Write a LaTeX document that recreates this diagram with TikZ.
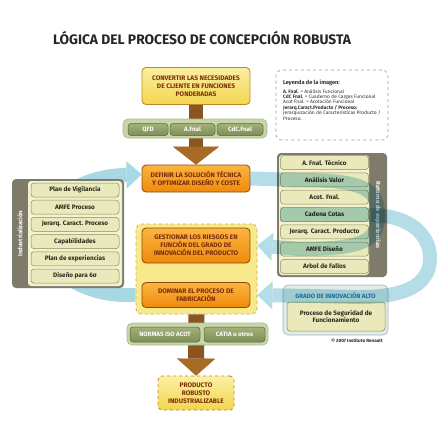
\documentclass[tikz,border=0pt]{standalone}
\usepackage{fontspec}
\setmainfont{Fira Sans}
\usetikzlibrary{arrows.meta}
\definecolor{boxtext}{HTML}{7A2E0C}
\definecolor{ytop}{HTML}{FBEFA2}
\definecolor{ybot}{HTML}{F3D64E}
\definecolor{ybord}{HTML}{B8862B}
\definecolor{otop}{HTML}{FBB540}
\definecolor{obot}{HTML}{EE8A0C}
\definecolor{obord}{HTML}{8A4A10}
\definecolor{cboxfill}{HTML}{F8E98A}
\definecolor{barfill}{HTML}{C9D5A9}
\definecolor{barbord}{HTML}{A9B98A}
\definecolor{btntop}{HTML}{A3B07A}
\definecolor{btnbot}{HTML}{7D8E55}
\definecolor{btnbord}{HTML}{56663A}
\definecolor{panelgray}{HTML}{7E7B6B}
\definecolor{panelcream}{HTML}{F3F1CF}
\definecolor{itemfill}{HTML}{EAE9BC}
\definecolor{itembord}{HTML}{8C8A5C}
\definecolor{itemtext}{HTML}{2B2A1E}
\definecolor{bandblue}{HTML}{A8D8E3}
\definecolor{shaftbrown}{HTML}{8A5520}
\definecolor{headbrown}{HTML}{A86B26}
\definecolor{gradofill}{HTML}{E1EBE8}
\definecolor{gradobord}{HTML}{A0B7B6}
\definecolor{gradotext}{HTML}{2E7EA6}
\tikzset{
  yellowbox/.style={draw=ybord, line width=0.8pt, rounded corners=4pt,
    top color=ytop, bottom color=ybot, text=boxtext, align=center,
    font=\bfseries\fontsize{6.6}{7.8}\selectfont, inner sep=0pt},
  orangebox/.style={yellowbox, draw=obord, top color=otop, bottom color=obot},
  toolbar/.style={fill=barfill, draw=barbord, line width=0.6pt, rounded corners=5pt, inner sep=0pt},
  toolbtn/.style={draw=btnbord, line width=0.5pt, rounded corners=3pt, top color=btntop,
    bottom color=btnbot, text=white, inner sep=0pt, minimum height=12pt,
    font=\bfseries\fontsize{6.2}{7}\selectfont},
  panelitem/.style={draw=itembord, line width=0.5pt, rounded corners=3pt, fill=itemfill,
    minimum width=88pt, minimum height=14pt, inner sep=0pt, text=itemtext,
    font=\bfseries\fontsize{6.4}{7}\selectfont},
  feedback/.style={line width=14pt, draw=bandblue,
    -{Triangle[width=28pt,length=15pt,line width=0.1pt]}},
  trunk/.style={line width=14pt, draw=shaftbrown,
    -{Triangle[width=46pt,length=18pt,line width=0.1pt,fill=headbrown]}},
}
\begin{document}
\begin{tikzpicture}[x=1pt, y=-1pt]
\useasboundingbox[fill=white] (0,0) rectangle (443,426);
% Title
\node[font=\bfseries\fontsize{13.8}{15}\selectfont, text=black!85] (title) at (202,38)
  {LÓGICA DEL PROCESO DE CONCEPCIÓN ROBUSTA};

% Main column
\node[yellowbox, minimum width=108pt, minimum height=37pt] (conv) at (196,86)
  {CONVERTIR LAS NECESIDADES\\DE CLIENTE EN FUNCIONES\\PONDERADAS};
\node[orangebox, minimum width=108pt, minimum height=27pt] (defin) at (196,178.5)
  {DEFINIR LA SOLUCIÓN TÉCNICA\\Y OPTIMIZAR DISEÑO Y COSTE};
\node[yellowbox, draw=ybord!70, dashed, fill=cboxfill, top color=cboxfill, bottom color=cboxfill,
  rounded corners=5pt, minimum width=121pt, minimum height=90pt] (cbox) at (196.5,269) {};
\node[orangebox, minimum width=108pt, minimum height=35pt] (gest) at (196,245.5)
  {GESTIONAR LOS RIESGOS EN\\FUNCIÓN DEL GRADO DE\\INNOVACIÓN DEL PRODUCTO};
\node[orangebox, minimum width=108pt, minimum height=25pt] (domin) at (196,295)
  {DOMINAR EL PROCESO DE\\FABRICACIÓN};
\node[yellowbox, dashed, minimum width=76pt, minimum height=34pt] (final) at (196,393)
  {PRODUCTO\\ROBUSTO\\INDUSTRIALIZABLE};

% Brown trunks (behind the tool bars)
\draw[trunk] (conv.south) -- (defin.north);
\draw[trunk, line width=16pt, -{Triangle[width=38pt,length=17pt,line width=0.1pt,fill=headbrown]}]
  (cbox.south) -- (final.north);

% Tool bars
\node[toolbar, minimum width=144pt, minimum height=19pt] (topbar) at (195,128.5) {};
\node[toolbtn, minimum width=40pt] (qfd) at (148,129.5) {QFD};
\node[toolbtn, minimum width=45pt] (afnal) at (192.5,129.5) {A.Fnal};
\node[toolbtn, minimum width=46pt] (cdc) at (240,129.5) {CdC.Fnal};
\node[toolbar, minimum width=141pt, minimum height=22pt] (botbar) at (197.5,334) {};
\node[toolbtn, minimum width=70pt, minimum height=15pt] (normas) at (165,334.5) {NORMAS ISO ACOT};
\node[toolbtn, minimum width=61pt, minimum height=15pt] (catia) at (234.5,334.5) {CATIA u otros};

% Legend
\node[draw=black!40, dashed, line width=0.6pt, rounded corners=6pt,
  minimum width=112pt, minimum height=70pt] (legendbox) at (332,105) {};
\node[anchor=north west, align=left, inner sep=0pt, text=black!80,
  font=\fontsize{4.9}{5.4}\selectfont] (legendtxt) at (283,80)
  {{\bfseries\fontsize{5.6}{6}\selectfont Leyenda de la imagen:}\\[3pt]
   \textbf{A. Fnal.} = Análisis Funcional\\
   \textbf{CdC Fnal.} = Cuaderno de Cargas Funcional\\
   Acot Fnal. = Acotación Funcional\\
   \textbf{Jerarq.Caract.Producto / Proceso:}\\
   Jerarquización de Características Producto /\\
   Proceso.};

% Left feedback loop (behind the panel)
\draw[feedback, -{Triangle[width=27pt,length=15pt,line width=0.1pt]}]
  (cbox.west |- domin) -- (126,295) .. controls (90,295) and (45,276) .. (45,235)
  .. controls (45,200) and (80,176) .. ([yshift=4pt]defin.west);

% Left panel: Industrializacion
\fill[panelgray, rounded corners=4pt] (12,179) rectangle (124,288);
\fill[panelcream, rounded corners=3pt] (28,181) rectangle (122,286);
\node[rotate=90, text=white, font=\bfseries\fontsize{6}{6}\selectfont] (indlabel) at (20,233.5)
  {Industrialización};
\foreach \txt [count=\i] in {Plan de Vigilancia, AMFE Proceso, Jerarq. Caract. Proceso,
  Capabilidades, Plan de experiencias, Diseño para 6σ}
  \node[panelitem] (litem\i) at (75,{190+(\i-1)*17.2}) {\txt};

% Right panel: Retorno de experiencias
\fill[panelgray, rounded corners=4pt] (277,153) rectangle (387,277);
\fill[panelcream, rounded corners=3pt] (279,155) rectangle (369,275);
\node[rotate=-90, text=white!90!panelgray, font=\bfseries\fontsize{6}{6}\selectfont] (retlabel)
  at (378,215) {Retorno de experiencias};
\foreach \txt [count=\i] in {A. Fnal. Técnico, Análisis Valor, Acot. Fnal., Cadena Cotas,
  Jerarq. Caract. Producto, AMFE Diseño, Arbol de Fallos}
  \node[panelitem] (ritem\i) at (324.5,{162.5+(\i-1)*17.33}) {\txt};

% Grado de innovacion alto
\node[fill=gradofill, draw=gradobord, line width=0.6pt, rounded corners=5pt,
  minimum width=105pt, minimum height=50pt] (grado) at (335.5,310) {};
\node[text=gradotext, font=\bfseries\fontsize{6.2}{6}\selectfont] (gradotitle) at (335.5,295.5)
  {GRADO DE INNOVACIÓN ALTO};
\node[panelitem, align=center, minimum width=98pt, minimum height=29pt,
  font=\bfseries\fontsize{6.4}{7.6}\selectfont] (psf) at (336,316.5)
  {Proceso de Seguridad de\\Funcionamiento};
\node[font=\bfseries\fontsize{4.6}{5}\selectfont, text=black!85] (copy) at (357,341)
  {© 2007 Instituto Renault};

% Right feedback loops (over the panel)
\begin{scope}[transparency group, blend mode=multiply, opacity=0.85]
  \draw[feedback] (defin.east) -- (300,180) .. controls (365,180) and (378,190) .. (378,215)
    .. controls (378,240) and (365,249) .. (300,249) -- (cbox.east |- gest);
\end{scope}
\begin{scope}[transparency group, blend mode=multiply, opacity=0.85]
  \draw[feedback] (ritem4.west) -- (370,215) .. controls (410,215) and (430,235) .. (430,258)
    .. controls (430,285) and (405,297) .. (360,297) -- (cbox.east |- domin);
\end{scope}
\end{tikzpicture}
\end{document}
